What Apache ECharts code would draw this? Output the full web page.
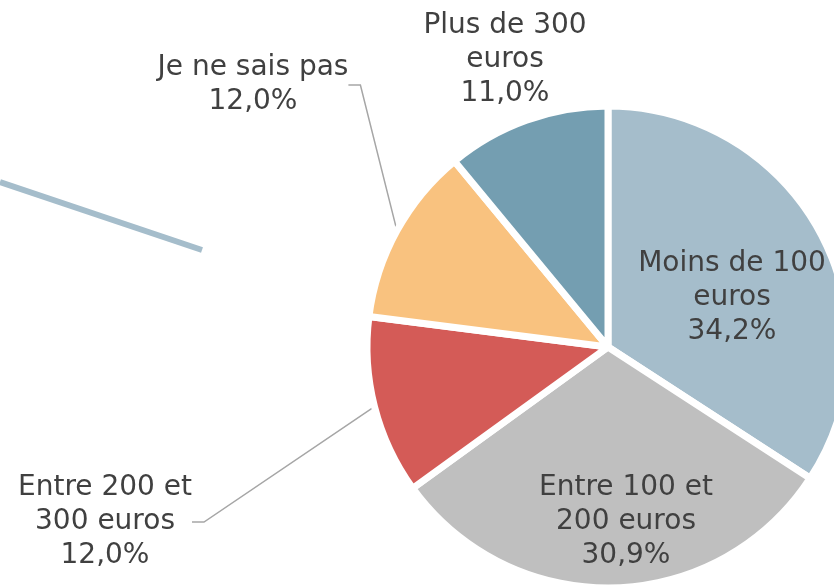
<!DOCTYPE html>
<html>
<head>
<meta charset="utf-8">
<script src="https://cdn.jsdelivr.net/npm/echarts@6/dist/echarts.min.js"></script>
<style>
  html, body { margin: 0; padding: 0; background: #fff; }
  #chart { width: 834px; height: 586px; }
</style>
</head>
<body>
<div id="chart"></div>
<script>
const categories = ['Moins de 100\neuros', 'Entre 100 et\n200 euros', 'Entre 200 et\n300 euros', 'Je ne sais pas', 'Plus de 300\neuros']
const shares = [34.2, 30.9, 12.0, 12.0, 11.0]
const colors = ['#a5bdcb', '#bfbfbf', '#d45b57', '#f9c27f', '#749eb1']

// label centres, picked by eye
const labelPos = [[732, 298], [626, 522], [105, 522], [253, 85], [505, 60]]
const insideLabel = [true, true, false, false, false]

const chart = echarts.init(document.getElementById('chart'))

chart.setOption({
  animation: false,
  graphic: [{
    type: 'line',
    shape: { x1: 0, y1: 182, x2: 202, y2: 250 },
    style: { stroke: '#a5bdcb', lineWidth: 6 }
  }],
  series: [{
    type: 'pie',
    center: [608, 347],
    radius: 241,
    startAngle: 90,
    clockwise: true,
    itemStyle: { borderColor: '#fff', borderWidth: 7 },
    label: {
      fontFamily: 'DejaVu Sans',
      fontSize: 28,
      lineHeight: 34,
      color: '#404040',
      align: 'center',
      formatter: p => p.name + '\n' + p.value.toFixed(1).replace('.', ',') + '%'
    },
    labelLine: {
      show: true,
      lineStyle: { color: '#a6a6a6', width: 1.5 },
      length: 20,
      length2: 12
    },
    labelLayout: p => ({
      x: labelPos[p.dataIndex][0],
      y: labelPos[p.dataIndex][1],
      align: 'center',
      verticalAlign: 'middle'
    }),
    data: categories.map((name, i) => ({
      name,
      value: shares[i],
      itemStyle: { color: colors[i] },
      label: { position: insideLabel[i] ? 'inside' : 'outside' },
      labelLine: { show: !insideLabel[i] && i !== 4 }
    }))
  }]
})
</script>
</body>
</html>
